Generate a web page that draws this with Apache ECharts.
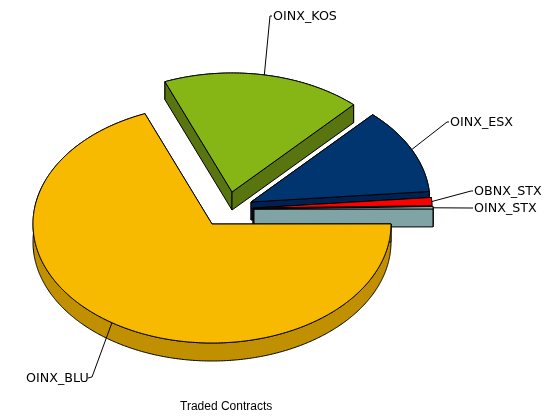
<!DOCTYPE html>
<html><head><meta charset="utf-8">
<style>html,body{margin:0;padding:0;background:#fff}#c{width:559px;height:416px}</style>
<script src="https://cdn.jsdelivr.net/npm/echarts@6/dist/echarts.min.js"></script>
</head><body><div id="c"></div>
<script>
// Data, in drawing order (back to front)
const categories = ['OINX_KOS', 'OINX_ESX', 'OBNX_STX', 'OINX_STX', 'OINX_BLU'];
const shares = [18.0, 11.7, 1.1, 0.3, 68.9];
const titleText = 'Traded Contracts';

// Styles and layout
const topColors  = ['#86B516', '#003570', '#FF0000', '#B4E4E8', '#F8BA00'];
const wallColors = ['#587510', '#002252', '#B00000', '#80A4A6', '#C09000'];
const explodeX = [20, 39, 41, 42, 0];
const explodeY = [-32, -22, -16, -15, 0];
const labelX = [273, 450, 474, 474, 26];
const labelY = [16, 122, 191, 208, 378];
const labelSide = ['left', 'left', 'left', 'left', 'right'];
const labelWidthEnd = [0, 0, 0, 0, 62];
const PIE = { cx: 212, cy: 224, rx: 179, ry: 119, depth: 18, startDeg: -22 };
const font = '12.7px "DejaVu Sans"';

const total = shares.reduce((a, b) => a + b, 0);
const cumulative = [];
shares.reduce((sum, v, i) => { cumulative[i] = sum; return sum + v; }, 0);

function pointAt(cx, cy, deg) {
  const t = deg * Math.PI / 180;
  return [cx + PIE.rx * Math.sin(t), cy - PIE.ry * Math.cos(t)];
}

function renderSlice(params, api) {
  const i = params.dataIndex;
  const value = api.value(0);
  const a0 = PIE.startDeg + cumulative[i] / total * 360;
  const a1 = a0 + value / total * 360;
  const cx = PIE.cx + explodeX[i], cy = PIE.cy + explodeY[i];
  const steps = Math.max(2, Math.ceil((a1 - a0) * 2));
  const arc = [];
  for (let s = 0; s <= steps; s++) arc.push(pointAt(cx, cy, a0 + (a1 - a0) * s / steps));
  const down = p => [p[0], p[1] + PIE.depth];
  const first = arc[0], last = arc[arc.length - 1], apex = [cx, cy];
  const poly = (pts, fill) => ({
    type: 'polygon', shape: { points: pts },
    style: { fill, stroke: '#000', lineWidth: 1, lineJoin: 'round' }
  });
  const wall = wallColors[i];
  const children = [
    poly(arc.concat(arc.map(down).reverse()), wall),
    poly([apex, first, down(first), down(apex)], wall),
    poly([apex, last, down(last), down(apex)], wall),
    poly([apex].concat(arc), topColors[i])
  ];
  // Leader line from the middle of the slice's arc to its label
  const mid = pointAt(cx, cy, (a0 + a1) / 2);
  const lx = labelX[i] + labelWidthEnd[i], ly = labelY[i];
  const left = labelSide[i] === 'left';
  const elbow = left ? [lx - 3, ly] : [lx + 4, ly - 1];
  children.push({
    type: 'polyline',
    shape: { points: [mid, elbow, [left ? lx - 1 : lx, ly]] },
    style: { fill: null, stroke: '#000', lineWidth: 1 }
  });
  children.push({
    type: 'text',
    style: {
      x: labelX[i], y: labelY[i] + 1, text: categories[i], font,
      fill: '#000', textAlign: 'left', textVerticalAlign: 'middle'
    }
  });
  return { type: 'group', children };
}

const chart = echarts.init(document.getElementById('c'), null, { renderer: 'canvas' });
chart.setOption({
  animation: false,
  backgroundColor: '#fff',
  title: {
    text: titleText, left: 175, top: 396,
    textStyle: { fontFamily: 'Liberation Sans', fontSize: 12, fontWeight: 'normal', color: '#000' }
  },
  series: [{
    type: 'custom',
    coordinateSystem: 'none',
    renderItem: renderSlice,
    data: shares.map((v, i) => ({ name: categories[i], value: [v] }))
  }]
});
</script></body></html>
